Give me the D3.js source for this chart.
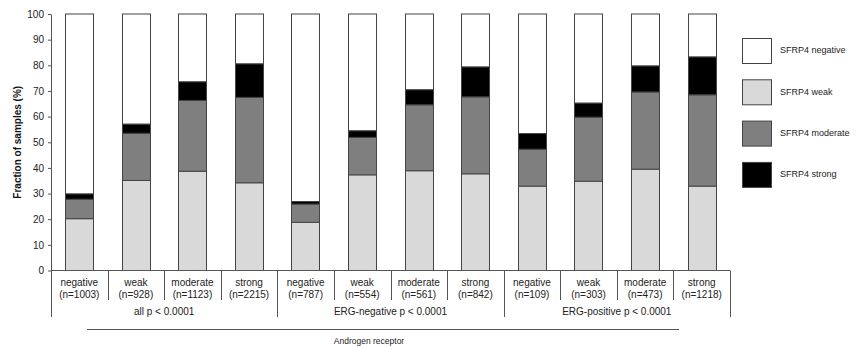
<!DOCTYPE html>
<html>
<head>
<meta charset="utf-8">
<script src="https://cdn.jsdelivr.net/npm/d3@7"></script>
<style>
  html, body { margin: 0; padding: 0; background: #fff; }
  svg { display: block; font-family: "Liberation Sans", Arial, sans-serif; }
</style>
</head>
<body>
<svg id="chart" width="859" height="347"></svg>
<script>
// Androgen receptor level per column, with sample counts
const categories = ["negative", "weak", "moderate", "strong",
                    "negative", "weak", "moderate", "strong",
                    "negative", "weak", "moderate", "strong"];
const sampleCounts = ["(n=1003)", "(n=928)", "(n=1123)", "(n=2215)",
                      "(n=787)", "(n=554)", "(n=561)", "(n=842)",
                      "(n=109)", "(n=303)", "(n=473)", "(n=1218)"];
const groups = ["all p < 0.0001", "ERG-negative p < 0.0001", "ERG-positive p < 0.0001"];

// SFRP4 staining fractions (%) per column
const weak     = [20.2, 35.1, 38.7, 34.2, 18.8, 37.3, 38.9, 37.7, 32.9, 34.8, 39.5, 32.9];
const moderate = [ 7.6, 18.4, 27.6, 33.3,  7.1, 14.6, 25.7, 30.0, 14.4, 25.0, 30.1, 35.6];
const strong   = [ 2.1,  3.6,  7.3, 13.1,  1.0,  2.6,  5.9, 11.7,  6.1,  5.5, 10.2, 14.8];
const negative = [70.1, 42.9, 26.4, 19.4, 73.1, 45.5, 29.5, 20.6, 46.6, 34.7, 20.2, 16.7];

const yTicks = [0, 10, 20, 30, 40, 50, 60, 70, 80, 90, 100];

const stackKeys = ["weak", "moderate", "strong", "negative"];
const legendKeys = ["negative", "weak", "moderate", "strong"];
const legendLabels = {
  negative: "SFRP4 negative", weak: "SFRP4 weak",
  moderate: "SFRP4 moderate", strong: "SFRP4 strong"
};
const fills = { negative: "#ffffff", weak: "#d9d9d9", moderate: "#7f7f7f", strong: "#000000" };

const rows = categories.map((c, i) => ({
  idx: i, weak: weak[i], moderate: moderate[i], strong: strong[i], negative: negative[i]
}));

const svg = d3.select("#chart");
const plotLeft = 51, plotRight = 730, plotTop = 14, plotBottom = 270.5;

const x = d3.scaleBand().domain(d3.range(categories.length)).range([plotLeft, plotRight])
  .paddingInner(0).paddingOuter(0);
const y = d3.scaleLinear().domain([0, 100]).range([plotBottom, plotTop]);
const barW = x.bandwidth() * 0.5;

const lineColor = "#555";

// stacked bars
const series = d3.stack().keys(stackKeys)(rows);
svg.append("g").selectAll("g").data(series).join("g")
  .attr("fill", d => fills[d.key])
  .selectAll("rect").data(d => d).join("rect")
  .attr("x", d => Math.round(x(d.data.idx) + (x.bandwidth() - barW) / 2) + 0.5)
  .attr("width", Math.round(barW))
  .attr("y", d => y(d[1]))
  .attr("height", d => y(d[0]) - y(d[1]))
  .attr("stroke", "#444")
  .attr("stroke-width", 1);

// y axis
const yAxis = svg.append("g")
  .attr("transform", `translate(${plotLeft},0)`)
  .call(d3.axisLeft(y).tickValues(yTicks).tickSize(3).tickSizeOuter(0).tickPadding(4));
yAxis.select(".domain").attr("stroke", lineColor);
yAxis.selectAll(".tick line").attr("stroke", lineColor);
yAxis.selectAll(".tick text")
  .attr("font-size", 10).attr("fill", "#222")
  .attr("font-family", "Liberation Sans, Arial, sans-serif");

svg.append("text")
  .attr("transform", `translate(18,${(plotTop + plotBottom) / 2}) rotate(-90)`)
  .attr("text-anchor", "middle")
  .attr("dominant-baseline", "middle")
  .attr("font-size", 10).attr("font-weight", "bold").attr("fill", "#111")
  .text("Fraction of samples (%)");

// category axis: baseline, separators, labels
const g = svg.append("g");
g.append("line")
  .attr("x1", plotLeft).attr("x2", plotRight).attr("y1", plotBottom).attr("y2", plotBottom)
  .attr("stroke", lineColor);

d3.range(categories.length + 1).forEach(i => {
  const xx = i < categories.length ? x(i) : plotRight;
  const isGroupEdge = i % 4 === 0;
  g.append("line")
    .attr("x1", Math.round(xx) + 0.5).attr("x2", Math.round(xx) + 0.5)
    .attr("y1", plotBottom).attr("y2", isGroupEdge ? 317 : 300)
    .attr("stroke", lineColor);
});

g.selectAll("text.cat").data(categories).join("text")
  .attr("class", "cat")
  .attr("x", (d, i) => x(i) + x.bandwidth() / 2)
  .attr("y", 286)
  .attr("text-anchor", "middle").attr("font-size", 10).attr("fill", "#222")
  .text(d => d);

g.selectAll("text.cnt").data(sampleCounts).join("text")
  .attr("class", "cnt")
  .attr("x", (d, i) => x(i) + x.bandwidth() / 2)
  .attr("y", 298)
  .attr("text-anchor", "middle").attr("font-size", 10).attr("fill", "#222")
  .text(d => d);

g.selectAll("text.grp").data(groups).join("text")
  .attr("class", "grp")
  .attr("x", (d, i) => (x(i * 4) + (i === groups.length - 1 ? plotRight : x(i * 4 + 4))) / 2)
  .attr("y", 315)
  .attr("text-anchor", "middle").attr("font-size", 10).attr("fill", "#222")
  .text(d => d);

// overall axis title
svg.append("line")
  .attr("x1", 87).attr("x2", 679).attr("y1", 329.5).attr("y2", 329.5)
  .attr("stroke", lineColor);
svg.append("text")
  .attr("x", 369).attr("y", 344)
  .attr("text-anchor", "middle").attr("font-size", 8.5).attr("fill", "#222")
  .text("Androgen receptor");

// legend
const legend = svg.append("g").attr("transform", "translate(742,38)");
const li = legend.selectAll("g").data(legendKeys).join("g")
  .attr("transform", (d, i) => `translate(0,${i * 41.3})`);
li.append("rect")
  .attr("x", 0.5).attr("y", 0.5).attr("width", 29).attr("height", 25)
  .attr("fill", d => fills[d]).attr("stroke", "#444").attr("stroke-width", 1);
li.append("text")
  .attr("x", 38).attr("y", 13)
  .attr("dominant-baseline", "middle")
  .attr("font-size", 9).attr("fill", "#222")
  .text(d => legendLabels[d]);
</script>
</body>
</html>
